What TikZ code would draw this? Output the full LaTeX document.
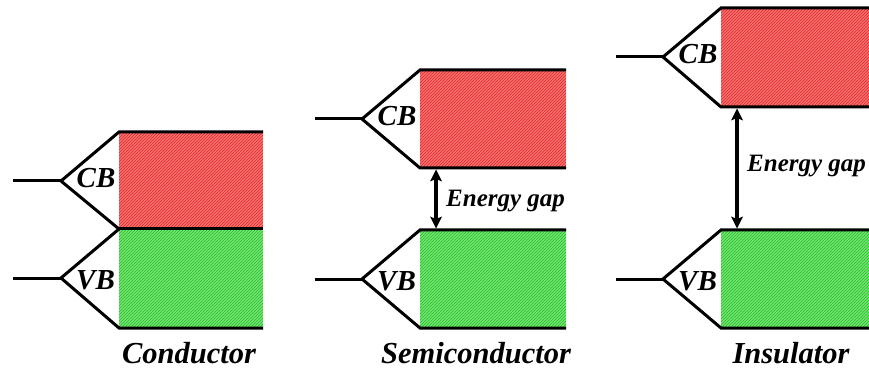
\documentclass[tikz,border=0pt]{standalone}
\usepackage{fontspec}
\setmainfont{Liberation Serif}
\usetikzlibrary{patterns}
\definecolor{cbred}{RGB}{245,115,115}
\definecolor{cbline}{RGB}{225,35,35}
\definecolor{vbgreen}{RGB}{120,228,120}
\definecolor{vbline}{RGB}{30,190,30}
\tikzset{
  edge/.style={line width=3pt, line join=miter, line cap=butt},
  shaft/.style={line width=4pt, line cap=butt},
  headfill/.style={fill=black, draw=none},
  redband/.style={draw=none, preaction={fill=cbred}, pattern=north east lines, pattern color=cbline},
  greenband/.style={draw=none, preaction={fill=vbgreen}, pattern=north east lines, pattern color=vbline},
  bandlbl/.style={font=\bfseries\itshape\fontsize{29}{32}\selectfont, inner sep=0pt, anchor=base},
  gaplbl/.style={font=\bfseries\itshape\fontsize{25}{30}\selectfont, inner sep=0pt, anchor=base west},
  title/.style={font=\bfseries\itshape\fontsize{30.5}{34}\selectfont, inner sep=0pt, anchor=base}
}
\begin{document}
\begin{tikzpicture}[x=1pt,y=-1pt]
\useasboundingbox (0,0) rectangle (869,371);
% ---------- Conductor ----------
\fill[redband] (119,132) rectangle (263,229);
\fill[greenband] (119,229) rectangle (263,328);
\coordinate (c1v) at (61,181);
\coordinate (c1l) at (13,181);
\coordinate (c2v) at (61,278);
\coordinate (c2l) at (13,278);
\draw[edge] (263,132) -- (119,132) -- (c1v) -- (119,229) -- (c2v) -- (119,328) -- (263,328);
\draw[edge] (119,229) -- (263,229);
\draw[edge] (c1l) -- (c1v);
\draw[edge] (c2l) -- (c2v);
\node[bandlbl] (c1cb) at (96,188) {CB};
\node[bandlbl] (c1vb) at (95.5,289) {VB};
\node[title] (t1) at (189,363) {Conductor};
% ---------- Semiconductor ----------
\fill[redband] (420,70) rectangle (566,168);
\fill[greenband] (420,230) rectangle (566,328);
\coordinate (s1v) at (362,119);
\coordinate (s1l) at (315,119);
\coordinate (s2v) at (362,279);
\coordinate (s2l) at (315,279);
\draw[edge] (566,70) -- (420,70) -- (s1v) -- (420,168) -- (566,168);
\draw[edge] (566,230) -- (420,230) -- (s2v) -- (420,328) -- (566,328);
\draw[edge] (s1l) -- (s1v);
\draw[edge] (s2l) -- (s2v);
\node[bandlbl] (s1cb) at (397,126) {CB};
\node[bandlbl] (s1vb) at (396.5,290) {VB};
\coordinate (sgt) at (436,169.5);
\coordinate (sgb) at (436,228.5);
\draw[shaft] ([yshift=-8pt]sgt) -- ([yshift=8pt]sgb);
\fill[headfill] (sgt) -- ++(6,12) -- ++(-6,-2.5) -- ++(-6,2.5) -- cycle;
\fill[headfill] (sgb) -- ++(6,-12) -- ++(-6,2.5) -- ++(-6,-2.5) -- cycle;
\node[gaplbl] (sgap) at (446,207) {Energy gap};
\node[title] (t2) at (476,363) {Semiconductor};
% ---------- Insulator ----------
\fill[redband] (721,8) rectangle (869,107);
\fill[greenband] (721,230) rectangle (869,328);
\coordinate (i1v) at (663,57);
\coordinate (i1l) at (616,57);
\coordinate (i2v) at (663,279);
\coordinate (i2l) at (616,279);
\draw[edge] (869,8) -- (721,8) -- (i1v) -- (721,107) -- (869,107);
\draw[edge] (869,230) -- (721,230) -- (i2v) -- (721,328) -- (869,328);
\draw[edge] (i1l) -- (i1v);
\draw[edge] (i2l) -- (i2v);
\node[bandlbl] (i1cb) at (698,64) {CB};
\node[bandlbl] (i1vb) at (697.5,290) {VB};
\coordinate (igt) at (737,108.5);
\coordinate (igb) at (737,228.5);
\draw[shaft] ([yshift=-8pt]igt) -- ([yshift=8pt]igb);
\fill[headfill] (igt) -- ++(6,12) -- ++(-6,-2.5) -- ++(-6,2.5) -- cycle;
\fill[headfill] (igb) -- ++(6,-12) -- ++(-6,2.5) -- ++(-6,-2.5) -- cycle;
\node[gaplbl] (igap) at (747,172) {Energy gap};
\node[title] (t3) at (791,363) {Insulator};
\end{tikzpicture}
\end{document}
